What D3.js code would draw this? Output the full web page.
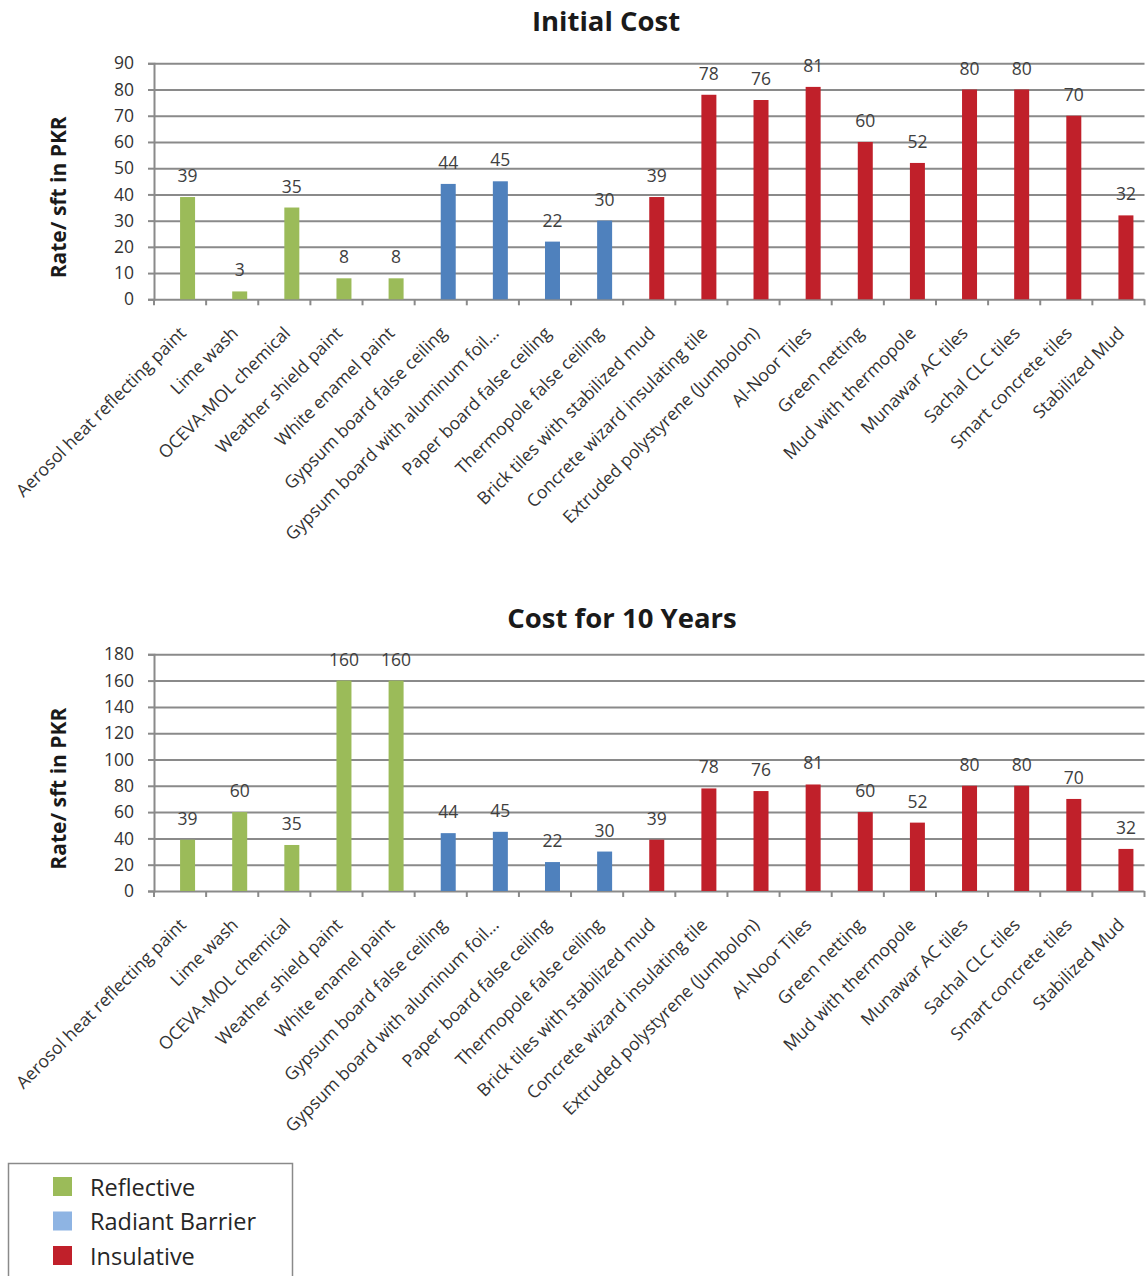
<!DOCTYPE html>
<html>
<head>
<meta charset="utf-8">
<script src="https://cdn.jsdelivr.net/npm/d3@7"></script>
<style>
body { margin: 0; background: #fff; }
text { font-family: "Open Sans", "Noto Sans", sans-serif; }
</style>
</head>
<body>
<script>
const categories = [
    "Aerosol heat reflecting paint", "Lime wash", "OCEVA-MOL chemical", "Weather shield paint",
    "White enamel paint", "Gypsum board false ceiling", "Gypsum board with aluminum foil\u2026",
    "Paper board false ceiling", "Thermopole false ceiling", "Brick tiles with stabilized mud",
    "Concrete wizard insulating tile", "Extruded polystyrene (Jumbolon)", "Al-Noor Tiles",
    "Green netting", "Mud with thermopole", "Munawar AC tiles", "Sachal CLC tiles",
    "Smart concrete tiles", "Stabilized Mud"
];
const categoryType = [
    "Reflective", "Reflective", "Reflective", "Reflective", "Reflective",
    "Radiant Barrier", "Radiant Barrier", "Radiant Barrier", "Radiant Barrier",
    "Insulative", "Insulative", "Insulative", "Insulative", "Insulative",
    "Insulative", "Insulative", "Insulative", "Insulative", "Insulative"
];
const initialCost = [39, 3, 35, 8, 8, 44, 45, 22, 30, 39, 78, 76, 81, 60, 52, 80, 80, 70, 32];
const tenYearCost = [39, 60, 35, 160, 160, 44, 45, 22, 30, 39, 78, 76, 81, 60, 52, 80, 80, 70, 32];
const initialTicks = [0, 10, 20, 30, 40, 50, 60, 70, 80, 90];
const tenYearTicks = [0, 20, 40, 60, 80, 100, 120, 140, 160, 180];
const legendTypes = ["Reflective", "Radiant Barrier", "Insulative"];

const width = 1148, height = 1276;
const left = 154, right = 1144.5;
const barColor = d3.scaleOrdinal().domain(legendTypes).range(["#9BBB59", "#4F81BD", "#C0202A"]);
const legendColor = d3.scaleOrdinal().domain(legendTypes).range(["#9BBB59", "#8EB4E3", "#C0202A"]);
const gridColor = "#8a8a8a";

let svg = d3.select("body").append("svg")
    .attr("width", width)
    .attr("height", height);

function createBarChart(title, titleX, titleY, values, ticks, top, bottom) {
    let x = d3.scaleBand().domain(categories).range([left, right]);
    let y = d3.scaleLinear().domain([0, ticks[ticks.length - 1]]).range([bottom, top]);
    let bw = x.bandwidth();
    let g = svg.append("g");

    // gridlines + y axis
    let yAxis = d3.axisLeft(y).tickValues(ticks).tickSize(6).tickPadding(14);
    let ag = g.append("g").attr("transform", "translate(" + left + ",0)").call(yAxis);
    ag.select(".domain").attr("stroke", gridColor).attr("stroke-width", 2);
    ag.selectAll(".tick line").attr("stroke", gridColor).attr("stroke-width", 2);
    ag.selectAll(".tick line").clone()
        .attr("x1", 0).attr("x2", right - left);
    ag.selectAll(".tick text")
        .attr("font-size", 17.5)
        .attr("fill", "#333")
        .attr("font-family", null);

    // category boundary ticks
    let bounds = categories.map(function (c) { return x(c); }).concat([right]);
    g.selectAll(".xtick").data(bounds).enter().append("line")
        .attr("x1", function (d) { return d; })
        .attr("x2", function (d) { return d; })
        .attr("y1", bottom)
        .attr("y2", bottom + 6)
        .attr("stroke", gridColor)
        .attr("stroke-width", 2);

    // bars
    g.selectAll(".bar").data(values).enter().append("rect")
        .attr("x", function (d, i) { return x(categories[i]) + bw / 2; })
        .attr("y", function (d) { return y(d); })
        .attr("width", 15)
        .attr("height", function (d) { return bottom - y(d); })
        .attr("fill", function (d, i) { return barColor(categoryType[i]); });

    // value labels
    g.selectAll(".val").data(values).enter().append("text")
        .attr("x", function (d, i) { return x(categories[i]) + bw / 2 + 7.5; })
        .attr("y", function (d) { return y(d) - 15; })
        .attr("text-anchor", "middle")
        .attr("font-size", 17.5)
        .attr("fill", "#404040")
        .text(function (d) { return d; });

    // category labels
    g.selectAll(".cat").data(categories).enter().append("text")
        .attr("transform", function (d) {
            return "translate(" + (x(d) + bw / 2 + 7) + "," + (bottom + 35) + ")rotate(-45)";
        })
        .attr("text-anchor", "end")
        .attr("font-size", 17.6)
        .attr("fill", "#333")
        .text(function (d) { return d; });

    // axis title
    g.append("text")
        .attr("transform", "translate(66," + ((top + bottom) / 2 + 16) + ")rotate(-90)")
        .attr("text-anchor", "middle")
        .attr("font-size", 21)
        .attr("font-weight", "bold")
        .attr("fill", "#1a1a1a")
        .text("Rate/ sft in PKR");

    // chart title
    g.append("text")
        .attr("x", titleX)
        .attr("y", titleY)
        .attr("text-anchor", "middle")
        .attr("font-size", 27.5)
        .attr("font-weight", "bold")
        .attr("fill", "#1a1a1a")
        .text(title);
}

function createLegend() {
    let g = svg.append("g");
    g.append("rect")
        .attr("x", 8.5).attr("y", 1163.5)
        .attr("width", 284).attr("height", 140)
        .attr("fill", "none")
        .attr("stroke", gridColor)
        .attr("stroke-width", 1.5);
    let items = g.selectAll(".leg").data(legendTypes).enter().append("g")
        .attr("transform", function (d, i) { return "translate(53," + (1177 + i * 34.5) + ")"; });
    items.append("rect")
        .attr("width", 19).attr("height", 19)
        .attr("fill", function (d) { return legendColor(d); });
    items.append("text")
        .attr("x", 37).attr("y", 18.5)
        .attr("font-size", 23.5)
        .attr("fill", "#262626")
        .text(function (d) { return d; });
}

createBarChart("Initial Cost", 606, 31, initialCost, initialTicks, 63.3, 299.3);
createBarChart("Cost for 10 Years", 622, 628, tenYearCost, tenYearTicks, 654.3, 891);
createLegend();
</script>
</body>
</html>
